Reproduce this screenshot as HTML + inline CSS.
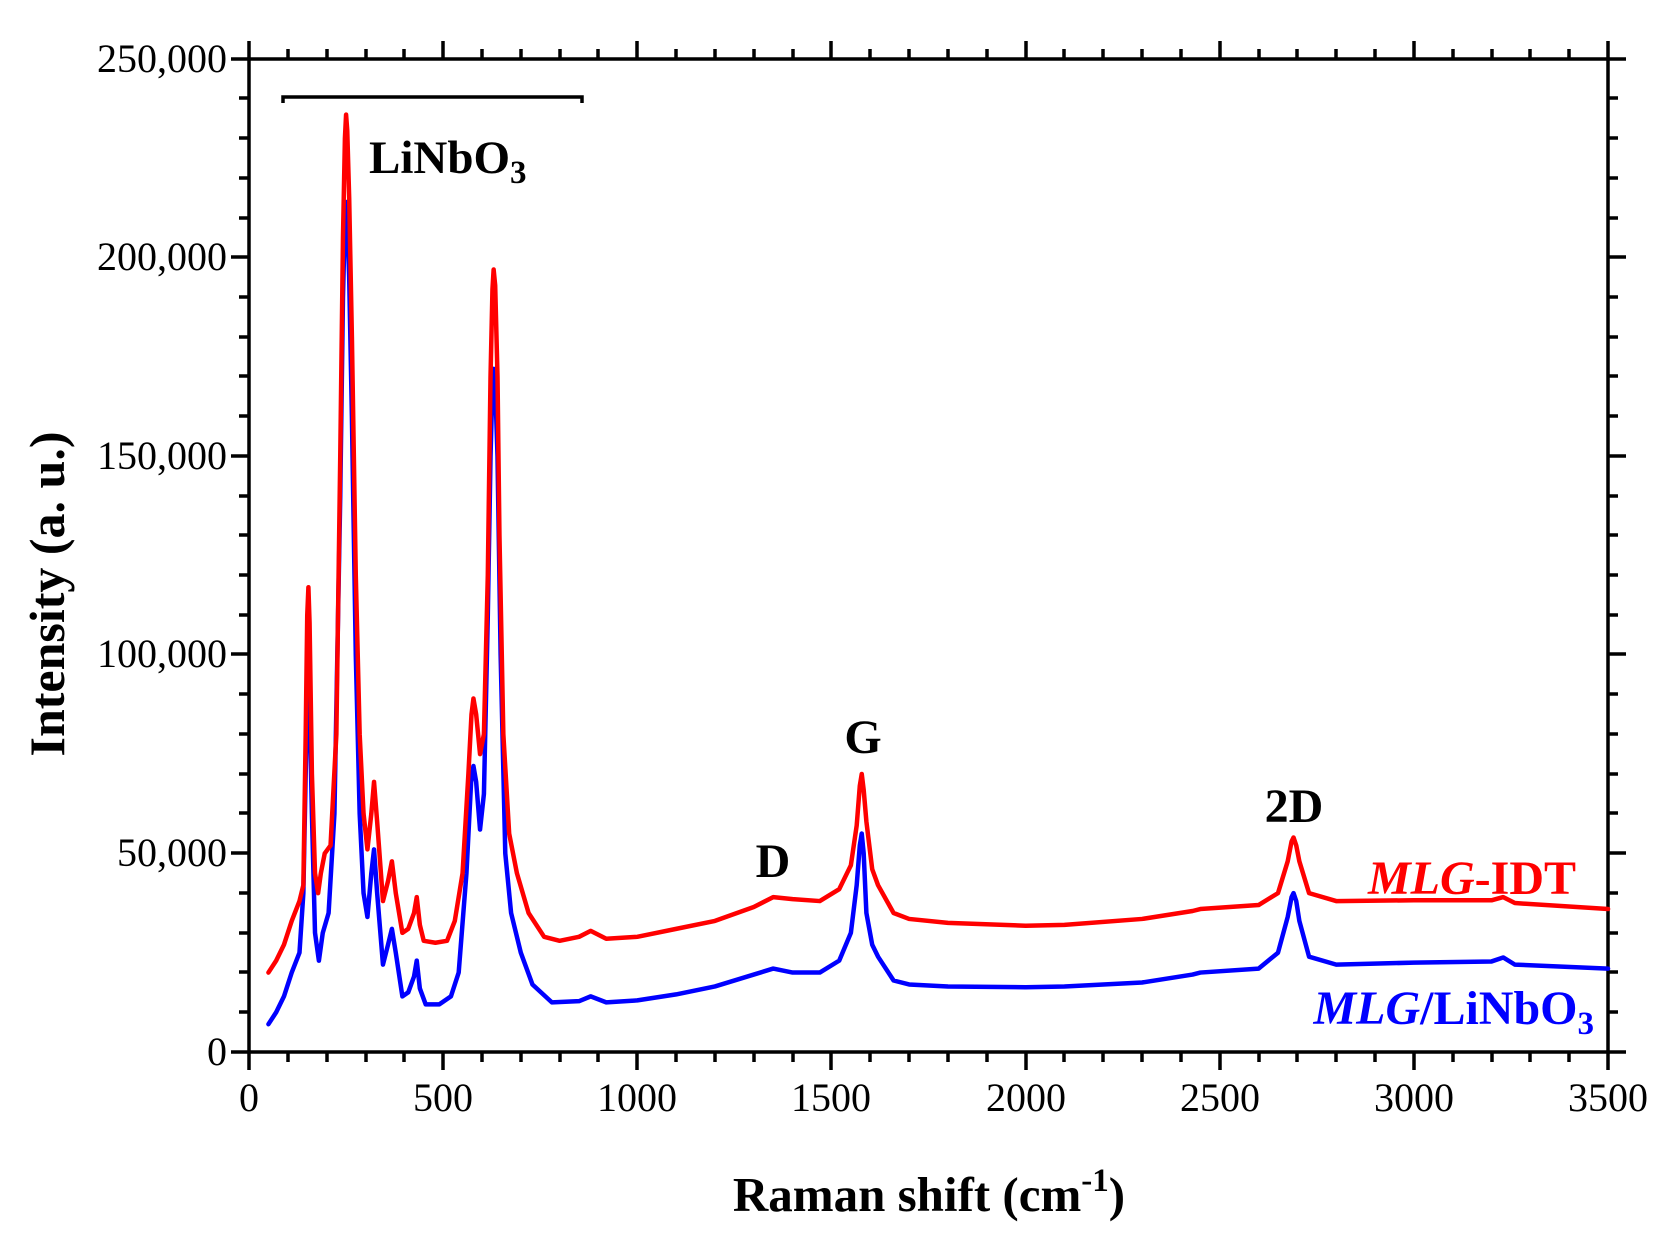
<!DOCTYPE html>
<html><head><meta charset="utf-8"><style>
html,body{margin:0;padding:0;background:#fff}
svg{display:block}
text{font-family:"Liberation Serif",serif}
</style></head><body>
<svg width="1677" height="1242" viewBox="0 0 1677 1242" xmlns="http://www.w3.org/2000/svg">
<g stroke="#000" stroke-width="3.5" fill="none">
<rect x="249" y="59" width="1359" height="993"/>
<path d="M249 1052v18M288 1052v10M327 1052v10M366 1052v10M404 1052v10M443 1052v18M482 1052v10M521 1052v10M560 1052v10M598 1052v10M637 1052v18M676 1052v10M715 1052v10M754 1052v10M793 1052v10M831 1052v18M870 1052v10M909 1052v10M948 1052v10M987 1052v10M1026 1052v18M1064 1052v10M1103 1052v10M1142 1052v10M1181 1052v10M1220 1052v18M1259 1052v10M1297 1052v10M1336 1052v10M1375 1052v10M1414 1052v18M1453 1052v10M1492 1052v10M1530 1052v10M1569 1052v10M1608 1052v18"/>
<path d="M249 59v-18M288 59v-10M327 59v-10M366 59v-10M404 59v-10M443 59v-18M482 59v-10M521 59v-10M560 59v-10M598 59v-10M637 59v-18M676 59v-10M715 59v-10M754 59v-10M793 59v-10M831 59v-18M870 59v-10M909 59v-10M948 59v-10M987 59v-10M1026 59v-18M1064 59v-10M1103 59v-10M1142 59v-10M1181 59v-10M1220 59v-18M1259 59v-10M1297 59v-10M1336 59v-10M1375 59v-10M1414 59v-18M1453 59v-10M1492 59v-10M1530 59v-10M1569 59v-10M1608 59v-18"/>
<path d="M249 1052h-18M249 1012h-10M249 972h-10M249 933h-10M249 893h-10M249 853h-18M249 813h-10M249 774h-10M249 734h-10M249 694h-10M249 654h-18M249 615h-10M249 575h-10M249 535h-10M249 496h-10M249 456h-18M249 416h-10M249 376h-10M249 337h-10M249 297h-10M249 257h-18M249 218h-10M249 178h-10M249 138h-10M249 98h-10M249 59h-18"/>
<path d="M1608 1052h18M1608 1012h10M1608 972h10M1608 933h10M1608 893h10M1608 853h18M1608 813h10M1608 774h10M1608 734h10M1608 694h10M1608 654h18M1608 615h10M1608 575h10M1608 535h10M1608 496h10M1608 456h18M1608 416h10M1608 376h10M1608 337h10M1608 297h10M1608 257h18M1608 218h10M1608 178h10M1608 138h10M1608 98h10M1608 59h18"/>
<path d="M283 103v-6h299v6"/>
</g>
<g transform="matrix(0.3883,0,0,-0.003972,249,1052)" fill="none" stroke-linejoin="round" stroke-linecap="round">
<polyline vector-effect="non-scaling-stroke" stroke="#0000ff" stroke-width="4.5" points="50,7000 70,10000 90,14000 110,20000 130,25000 140,40000 146,70000 150,90000 153,95000 156,88000 162,60000 170,30000 180,23000 190,30000 205,35000 220,60000 235,140000 242,190000 247,210000 250,214000 253,210000 258,195000 265,160000 275,100000 285,60000 295,40000 305,34000 315,45000 322,51000 330,40000 345,22000 358,27000 368,31000 378,25000 395,14000 410,15000 425,19000 432,23000 440,16000 455,12000 490,12000 520,14000 540,20000 560,45000 572,68000 578,72000 585,68000 595,56000 605,65000 615,110000 622,150000 627,168000 630,172000 634,168000 640,150000 648,100000 660,50000 675,35000 700,25000 730,17000 780,12500 850,12800 880,14000 920,12500 1000,13000 1100,14500 1200,16500 1300,19500 1350,21000 1400,20000 1470,20000 1520,23000 1550,30000 1565,42000 1573,52000 1578,55000 1583,50000 1590,35000 1605,27000 1620,24000 1660,18000 1700,17000 1800,16500 2000,16300 2100,16500 2300,17500 2430,19500 2450,20000 2600,21000 2650,25000 2675,34000 2685,39000 2690,40000 2697,38000 2705,33000 2730,24000 2800,22000 3000,22500 3200,22800 3230,23800 3260,22000 3500,21000"/>
<polyline vector-effect="non-scaling-stroke" stroke="#ff0000" stroke-width="4.5" points="50,20000 70,23000 90,27000 110,33000 130,38000 140,42000 146,80000 150,110000 153,117000 156,108000 162,70000 170,45000 178,40000 185,45000 195,50000 210,52000 225,80000 235,150000 242,205000 247,230000 250,236000 253,232000 258,215000 265,180000 275,120000 285,80000 295,60000 305,51000 315,60000 322,68000 330,58000 345,38000 358,43000 368,48000 378,40000 395,30000 410,31000 425,35000 432,39000 440,32000 450,28000 480,27500 510,28000 530,33000 550,45000 565,70000 573,85000 578,89000 585,85000 595,75000 605,80000 615,120000 622,170000 627,192000 630,197000 634,193000 640,170000 645,130000 655,80000 670,55000 690,45000 720,35000 760,29000 800,28000 850,29000 880,30500 920,28500 1000,29000 1100,31000 1200,33000 1300,36500 1350,39000 1400,38500 1470,38000 1520,41000 1550,47000 1565,57000 1573,67000 1578,70000 1583,66000 1590,58000 1605,46000 1620,42000 1660,35000 1700,33500 1800,32500 2000,31800 2100,32000 2300,33500 2430,35500 2450,36000 2600,37000 2650,40000 2675,48000 2685,53000 2690,54000 2697,52000 2705,48000 2730,40000 2800,38000 3000,38200 3200,38200 3230,39000 3260,37500 3500,36000"/>
</g>
<g font-size="40" fill="#000">
<g text-anchor="end">
<text x="227" y="1065">0</text>
<text x="227" y="866">50,000</text>
<text x="227" y="667">100,000</text>
<text x="227" y="469">150,000</text>
<text x="227" y="270">200,000</text>
<text x="227" y="72">250,000</text>
</g>
<g text-anchor="middle">
<text x="249" y="1111">0</text>
<text x="443" y="1111">500</text>
<text x="637" y="1111">1000</text>
<text x="831" y="1111">1500</text>
<text x="1026" y="1111">2000</text>
<text x="1220" y="1111">2500</text>
<text x="1414" y="1111">3000</text>
<text x="1608" y="1111">3500</text>
</g>
</g>
<g font-weight="bold" font-size="48">
<text x="929" y="1211" text-anchor="middle" font-size="49">Raman shift (cm<tspan dy="-20" font-size="33">-1</tspan><tspan dy="20">)</tspan></text>
<text transform="translate(64,594) rotate(-90)" text-anchor="middle" font-size="50">Intensity (a. u.)</text>
<text x="369" y="173" font-size="47">LiNbO<tspan dy="10" font-size="33">3</tspan></text>
<text x="773" y="877" text-anchor="middle">D</text>
<text x="863" y="753" text-anchor="middle">G</text>
<text x="1294" y="822" text-anchor="middle">2D</text>
<text x="1576" y="894" text-anchor="end" fill="#ff0000"><tspan font-style="italic">MLG</tspan>-IDT</text>
<text x="1594" y="1024" text-anchor="end" fill="#0000ff"><tspan font-style="italic">MLG</tspan>/LiNbO<tspan dy="10" font-size="33">3</tspan></text>
</g>
</svg>
</body></html>
